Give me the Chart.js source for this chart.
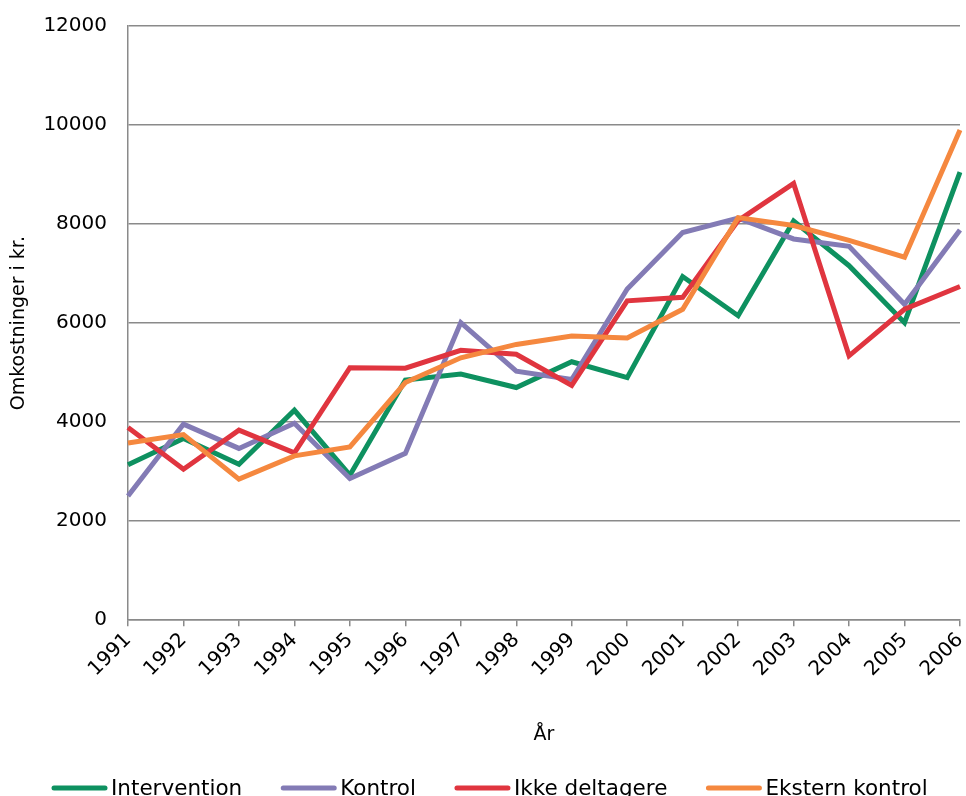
<!DOCTYPE html>
<html>
<head>
<meta charset="utf-8">
<script src="https://cdn.jsdelivr.net/npm/chart.js@4.4.1/dist/chart.umd.min.js"></script>
<style>
  html, body { margin: 0; padding: 0; background: #fff; }
  #wrap { width: 966px; height: 796px; position: relative; }
</style>
</head>
<body>
<div id="wrap"><canvas id="chart_1"></canvas></div>
<script>
const years = ['1991', '1992', '1993', '1994', '1995', '1996', '1997', '1998',
  '1999', '2000', '2001', '2002', '2003', '2004', '2005', '2006'];

const intervention = [3140, 3670, 3150, 4240, 2930, 4850, 4970, 4700, 5220, 4900, 6940, 6150, 8060, 7160, 6010, 9050];
const kontrol = [2510, 3960, 3470, 3980, 2860, 3370, 6010, 5030, 4860, 6690, 7830, 8120, 7700, 7550, 6380, 7880];
const ikkeDeltagere = [3890, 3050, 3840, 3380, 5100, 5090, 5450, 5370, 4740, 6450, 6520, 8070, 8820, 5340, 6280, 6740];
const eksternKontrol = [3580, 3750, 2850, 3320, 3500, 4800, 5300, 5570, 5740, 5700, 6280, 8130, 7970, 7670, 7330, 9900];

const seriesNames = ['Intervention', 'Kontrol', 'Ikke deltagere', 'Ekstern kontrol'];
const seriesColors = ['#0e9160', '#837bb5', '#e0353f', '#f5883f'];

const gridColor = '#8a8a8a';
const font = 'DejaVu Sans';

// legend drawn by hand so it can sit at the very bottom like the original
const bottomLegend = {
  id: 'bottomLegend',
  afterDraw(chart) {
    const ctx = chart.ctx;
    ctx.save();
    ctx.font = '21.5px "' + font + '"';
    ctx.textBaseline = 'middle';
    let x = 52;
    const y = 788;
    chart.data.datasets.forEach(function (ds) {
      ctx.strokeStyle = ds.borderColor;
      ctx.lineWidth = 5;
      ctx.lineCap = 'round';
      ctx.beginPath();
      ctx.moveTo(x + 2, y);
      ctx.lineTo(x + 53, y);
      ctx.stroke();
      ctx.fillStyle = '#000';
      ctx.fillText(ds.label, x + 59, y + 1);
      x += 59 + ctx.measureText(ds.label).width + 39;
    });
    ctx.restore();
  },
};

const allData = [intervention, kontrol, ikkeDeltagere, eksternKontrol];

new Chart('chart_1', {
  type: 'line',
  data: {
    labels: years,
    datasets: allData.map(function (values, i) {
      return {
        label: seriesNames[i],
        data: values,
        borderColor: seriesColors[i],
        backgroundColor: seriesColors[i],
        borderWidth: 5,
        pointRadius: 0,
        tension: 0,
        order: 3 - i,
      };
    }),
  },
  options: {
    responsive: true,
    maintainAspectRatio: false,
    animation: false,
    layout: { padding: { left: 0, right: 0, top: 0, bottom: 46 } },
    plugins: {
      legend: { display: false },
      tooltip: { enabled: false },
    },
    scales: {
      x: {
        offset: false,
        afterFit: function (scale) { scale.paddingRight = 6; },
        grid: { display: true, drawOnChartArea: false, color: gridColor, lineWidth: 1.5, tickLength: 6 },
        border: { color: gridColor, width: 1.5 },
        ticks: { minRotation: 45, maxRotation: 45, padding: 2, color: '#000', font: { family: font, size: 20 } },
        title: { display: true, text: 'År', color: '#000', font: { family: font, size: 19 }, padding: { top: 40, bottom: 4 } },
      },
      y: {
        min: 0,
        max: 12000,
        afterFit: function (scale) { scale.width = 128; scale.paddingTop = 26; },
        grid: { color: gridColor, lineWidth: 1.5, drawTicks: false },
        border: { color: gridColor, width: 1.5 },
        ticks: {
          stepSize: 2000,
          padding: 21,
          color: '#000',
          font: { family: font, size: 20 },
          callback: function (value) { return String(value); },
        },
        title: { display: true, text: 'Omkostninger i kr.', color: '#000', font: { family: font, size: 19 }, padding: { top: 8, bottom: 12 } },
      },
    },
  },
  plugins: [bottomLegend],
});
</script>
</body>
</html>
